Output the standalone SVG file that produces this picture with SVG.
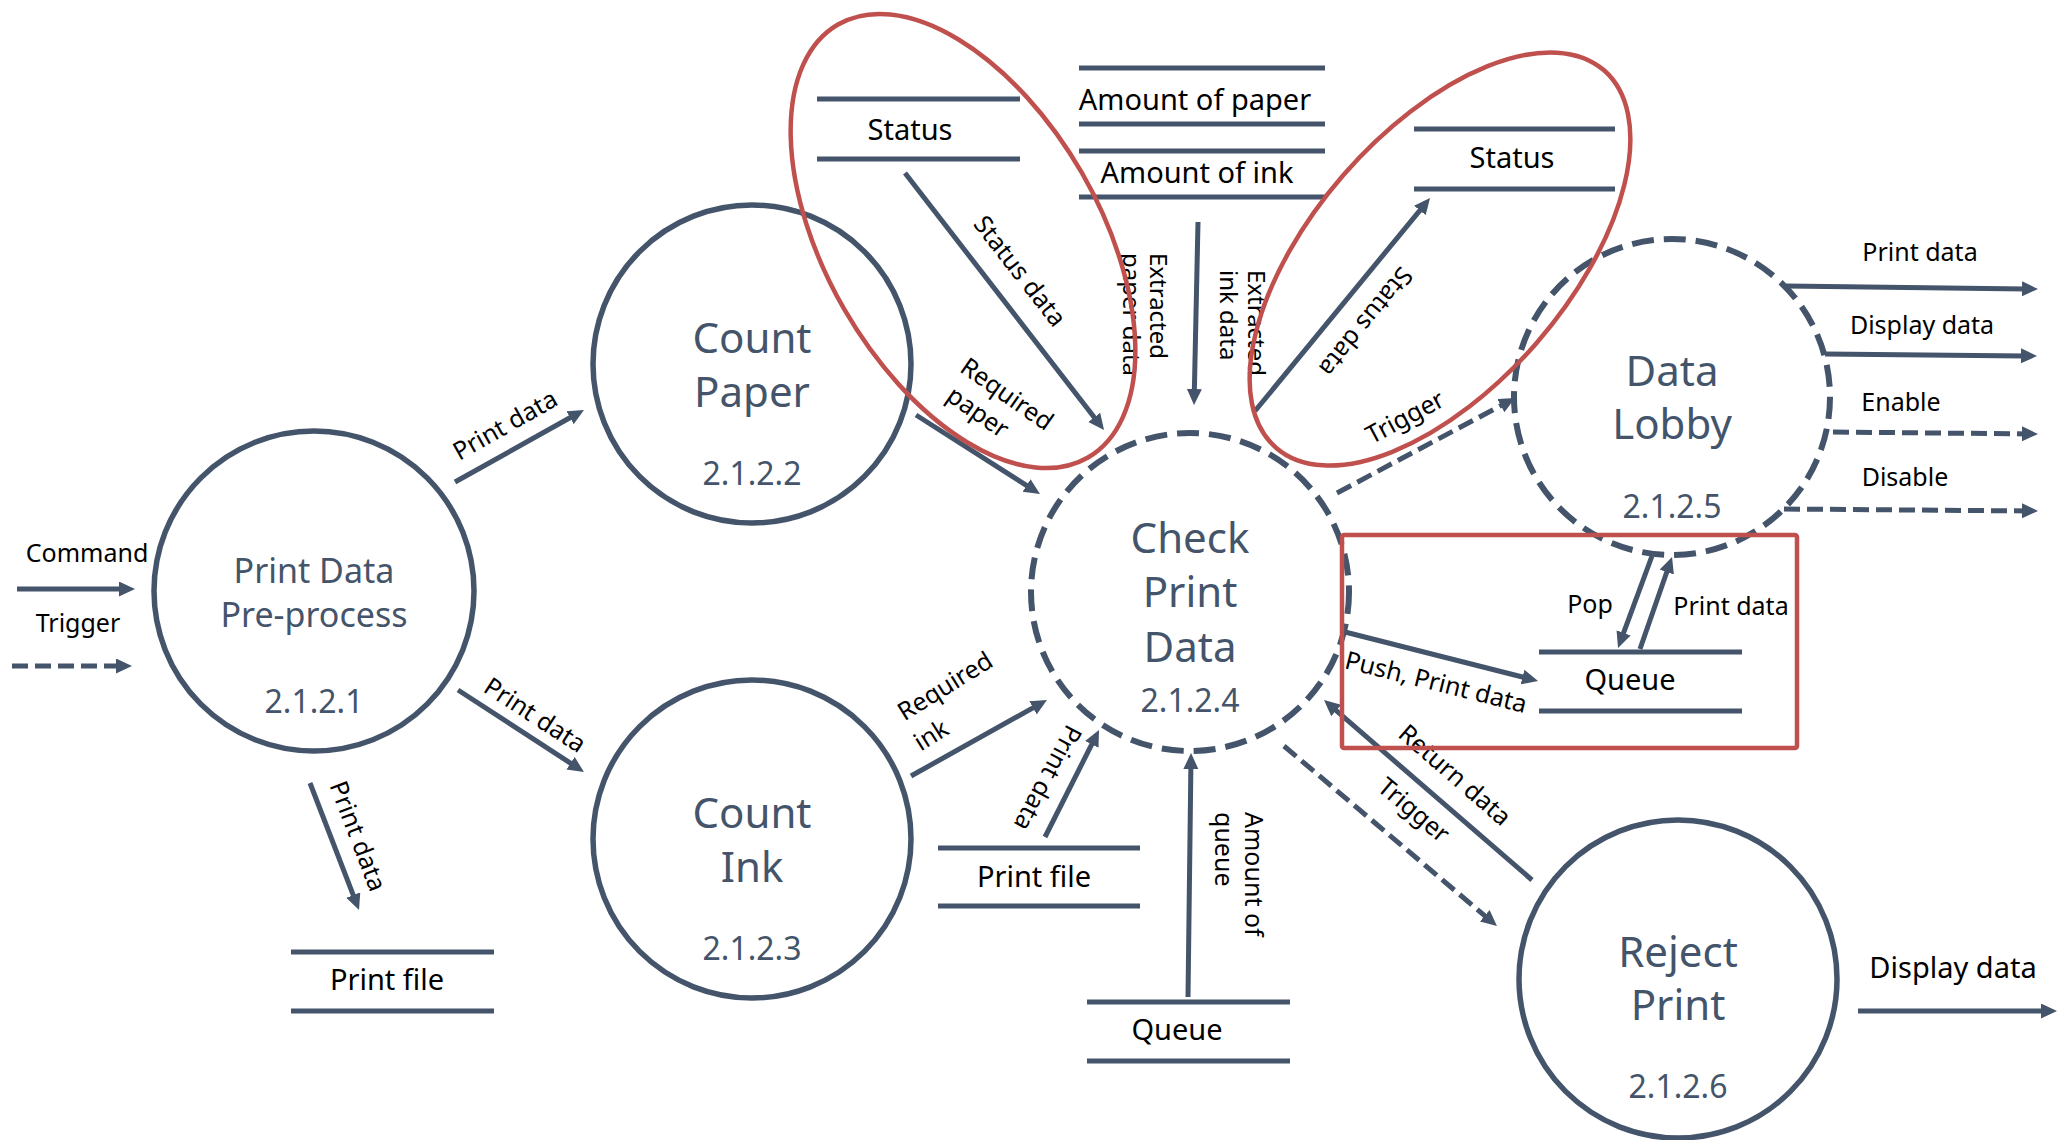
<svg xmlns="http://www.w3.org/2000/svg" width="2059" height="1140" viewBox="0 0 2059 1140">
<style>
.node{fill:#fff;stroke:#44546A;stroke-width:5.5}
.dnode{fill:none;stroke:#44546A;stroke-width:6;stroke-dasharray:22 10}
.nt{font-family:"Noto Sans","Open Sans",sans-serif;font-size:42px;fill:#44546A;text-anchor:middle}
.nn{font-family:"Noto Sans","Open Sans",sans-serif;font-size:32px;fill:#44546A;text-anchor:middle}
.st{stroke:#44546A;stroke-width:5}
.stt{font-family:"Noto Sans","Open Sans",sans-serif;font-size:29px;fill:#000;text-anchor:middle}
.lb{font-family:"Noto Sans","Open Sans",sans-serif;font-size:25px;fill:#000}
.c{text-anchor:middle}
.ar{stroke:#44546A;stroke-width:5;fill:none;marker-end:url(#ah)}
.da{stroke:#44546A;stroke-width:5;fill:none;stroke-dasharray:16 7;marker-end:url(#ah)}
.red{fill:none;stroke:#C0504D;stroke-width:4.5}
</style>
<defs>
<marker id="ah" markerUnits="userSpaceOnUse" markerWidth="18" markerHeight="16" refX="4" refY="7.5" orient="auto">
<path d="M0,0 L16,7.5 L0,15 z" fill="#44546A"/>
</marker>
</defs>
<rect width="2059" height="1140" fill="#fff"/>

<g id="n1">
<circle class="node" cx="314" cy="591" r="160"/>
<text class="nt" x="314" y="583" style="font-size:34px">Print Data</text>
<text class="nt" x="314" y="627" style="font-size:34px">Pre-process</text>
<text class="nn" x="314" y="713">2.1.2.1</text>
</g>
<g id="n2">
<circle class="node" cx="752" cy="364" r="159"/>
<text class="nt" x="752" y="353">Count</text>
<text class="nt" x="752" y="407">Paper</text>
<text class="nn" x="752" y="485">2.1.2.2</text>
</g>
<g id="n3">
<circle class="node" cx="752" cy="839" r="159"/>
<text class="nt" x="752" y="828">Count</text>
<text class="nt" x="752" y="882">Ink</text>
<text class="nn" x="752" y="960">2.1.2.3</text>
</g>
<g id="n4">
<circle class="dnode" cx="1190" cy="592" r="159"/>
<text class="nt" x="1190" y="553">Check</text>
<text class="nt" x="1190" y="607">Print</text>
<text class="nt" x="1190" y="662">Data</text>
<text class="nn" x="1190" y="712">2.1.2.4</text>
</g>
<g id="n5">
<circle class="dnode" cx="1672" cy="397" r="158"/>
<text class="nt" x="1672" y="386">Data</text>
<text class="nt" x="1672" y="439">Lobby</text>
<text class="nn" x="1672" y="518">2.1.2.5</text>
</g>
<g id="n6">
<circle class="node" cx="1678" cy="979" r="159"/>
<text class="nt" x="1678" y="967">Reject</text>
<text class="nt" x="1678" y="1020">Print</text>
<text class="nn" x="1678" y="1098">2.1.2.6</text>
</g>

<g id="s1">
<line class="st" x1="817" y1="99" x2="1020" y2="99"/><line class="st" x1="817" y1="159" x2="1020" y2="159"/>
<text class="stt" x="910" y="140">Status</text>
</g>
<g id="s2">
<line class="st" x1="1079" y1="68" x2="1325" y2="68"/><line class="st" x1="1079" y1="124" x2="1325" y2="124"/>
<text class="stt" x="1195" y="110">Amount of paper</text>
</g>
<g id="s3">
<line class="st" x1="1079" y1="151" x2="1325" y2="151"/><line class="st" x1="1079" y1="197" x2="1325" y2="197"/>
<text class="stt" x="1197" y="183">Amount of ink</text>
</g>
<g id="s4">
<line class="st" x1="1414" y1="129" x2="1615" y2="129"/><line class="st" x1="1414" y1="189" x2="1615" y2="189"/>
<text class="stt" x="1512" y="168">Status</text>
</g>
<g id="s5">
<line class="st" x1="1539" y1="652" x2="1742" y2="652"/><line class="st" x1="1539" y1="711" x2="1742" y2="711"/>
<text class="stt" x="1630" y="690">Queue</text>
</g>
<g id="s6">
<line class="st" x1="938" y1="848" x2="1140" y2="848"/><line class="st" x1="938" y1="906" x2="1140" y2="906"/>
<text class="stt" x="1034" y="887">Print file</text>
</g>
<g id="s7">
<line class="st" x1="1087" y1="1002" x2="1290" y2="1002"/><line class="st" x1="1087" y1="1061" x2="1290" y2="1061"/>
<text class="stt" x="1177" y="1040">Queue</text>
</g>
<g id="s8">
<line class="st" x1="291" y1="952" x2="494" y2="952"/><line class="st" x1="291" y1="1011" x2="494" y2="1011"/>
<text class="stt" x="387" y="990">Print file</text>
</g>

<g id="connectors">
<line class="ar" x1="17" y1="589" x2="123" y2="589"/>
<line class="da" x1="12" y1="666" x2="120" y2="666"/>
<line class="ar" x1="455" y1="482" x2="573.5" y2="415.8"/>
<line class="ar" x1="458" y1="690" x2="573.9" y2="765.4"/>
<line class="ar" x1="310" y1="783" x2="354.7" y2="898.8"/>
<line class="ar" x1="916" y1="415" x2="1029.9" y2="487.6"/>
<line class="ar" x1="905" y1="173" x2="1096.7" y2="420.5"/>
<line class="ar" x1="1198" y1="222" x2="1194.3" y2="393"/>
<line class="ar" x1="1255" y1="411" x2="1422.4" y2="207.3"/>
<line class="da" x1="1337" y1="493" x2="1504.4" y2="403.7"/>
<line class="ar" x1="1786" y1="286" x2="2026" y2="288.9"/>
<line class="ar" x1="1825" y1="354" x2="2025" y2="355.9"/>
<line class="da" x1="1833" y1="432" x2="2026" y2="433.9"/>
<line class="da" x1="1784" y1="509" x2="2026" y2="510.9"/>
<line class="ar" x1="1652" y1="556" x2="1622.2" y2="636.7"/>
<line class="ar" x1="1640" y1="649" x2="1668.1" y2="568.3"/>
<line class="ar" x1="1345" y1="632" x2="1526.4" y2="678"/>
<line class="ar" x1="1532" y1="880" x2="1333.1" y2="707.9"/>
<line class="da" x1="1284" y1="746" x2="1487.8" y2="918.3"/>
<line class="ar" x1="911" y1="776" x2="1036.5" y2="705.9"/>
<line class="ar" x1="1045" y1="837" x2="1093.6" y2="740.7"/>
<line class="ar" x1="1188" y1="997" x2="1190.9" y2="765"/>
<line class="ar" x1="1858" y1="1011" x2="2045" y2="1011"/>

<text class="lb c" x="87" y="562">Command</text>
<text class="lb c" x="78" y="632">Trigger</text>
<text class="lb c" transform="translate(505 425) rotate(-29.5)" dy="0.35em">Print data</text>
<text class="lb c" transform="translate(535 715) rotate(33)" dy="0.35em">Print data</text>
<text class="lb c" transform="translate(358 836) rotate(69)" dy="0.35em">Print data</text>
<text class="lb c" transform="translate(1007 394) rotate(35)" dy="0.35em">Required</text>
<text class="lb c" transform="translate(978 412) rotate(35)" dy="0.35em">paper</text>
<text class="lb c" transform="translate(1020 271) rotate(52)" dy="0.35em">Status data</text>
<text class="lb" transform="translate(1150 253) rotate(90)" style="font-size:24px">Extracted</text>
<text class="lb" transform="translate(1123 253) rotate(90)" style="font-size:24px">paper data</text>
<text class="lb" transform="translate(1248 270) rotate(90)" style="font-size:24px">Extracted</text>
<text class="lb" transform="translate(1220 270) rotate(90)" style="font-size:24px">ink data</text>
<text class="lb c" transform="translate(1366 322) rotate(129)" dy="0.35em">Status data</text>
<text class="lb c" transform="translate(1405 417) rotate(-28)" dy="0.35em">Trigger</text>
<text class="lb c" x="1920" y="261">Print data</text>
<text class="lb c" x="1922" y="334">Display data</text>
<text class="lb c" x="1901" y="411">Enable</text>
<text class="lb c" x="1905" y="486">Disable</text>
<text class="lb c" x="1590" y="613">Pop</text>
<text class="lb c" x="1731" y="615">Print data</text>
<text class="lb c" transform="translate(1436 682) rotate(14)" dy="0.35em">Push, Print data</text>
<text class="lb c" transform="translate(1455 775) rotate(41)" dy="0.35em">Return data</text>
<text class="lb c" transform="translate(1414 810) rotate(40)" dy="0.35em">Trigger</text>
<text class="lb c" transform="translate(945 686) rotate(-32)" dy="0.35em">Required</text>
<text class="lb c" transform="translate(931 735) rotate(-32)" dy="0.35em">ink</text>
<text class="lb c" transform="translate(1048 778) rotate(118)" dy="0.35em">Print data</text>
<text class="lb" transform="translate(1245 812) rotate(90)">Amount of</text>
<text class="lb" transform="translate(1215 812) rotate(90)">queue</text>
<text class="lb c" x="1953" y="978" style="font-size:29px">Display data</text>
</g>

<g id="highlights">
<ellipse class="red" cx="963" cy="241" rx="250" ry="137" transform="rotate(60 963 241)"/>
<ellipse class="red" cx="1440" cy="259" rx="250" ry="128" transform="rotate(-49 1440 259)"/>
<rect class="red" x="1342" y="535" width="455" height="213" rx="2"/>
</g>
</svg>
